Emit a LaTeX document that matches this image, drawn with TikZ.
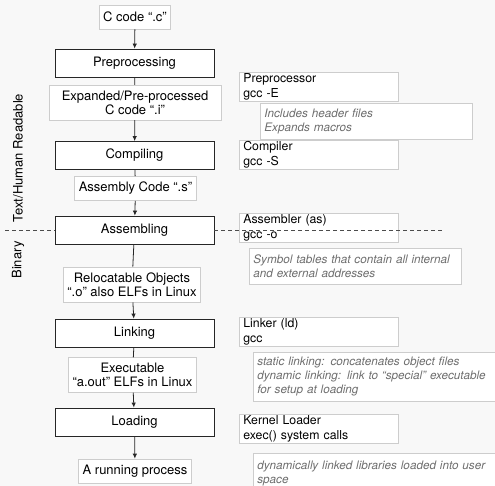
\documentclass[tikz,border=0pt]{standalone}
\usepackage{fontspec}
\setmainfont{TeX Gyre Heros}
\usetikzlibrary{arrows.meta}
\definecolor{bggray}{RGB}{248,248,248}
\definecolor{boxline}{RGB}{205,205,205}
\definecolor{notetext}{RGB}{110,110,110}
\tikzset{
  stage/.style={draw=black!85, line width=0.8pt, fill=white, minimum width=159pt, minimum height=28pt, inner sep=0pt, font=\fontsize{13}{14}\selectfont},
  artifact/.style={draw=boxline, line width=0.7pt, fill=white, align=center, inner xsep=4pt, inner ysep=5.5pt, minimum height=24pt, font=\fontsize{13}{14}\selectfont},
  tool/.style={draw=boxline, line width=0.7pt, fill=white, anchor=west, text width=151pt, align=left, inner xsep=4pt, inner ysep=0pt, minimum height=29pt, font=\fontsize{12.3}{15}\selectfont},
  note/.style={draw=boxline, line width=0.7pt, fill=white, anchor=north west, align=left, inner xsep=4pt, inner ysep=4pt, text=notetext, font=\fontsize{11.7}{14}\selectfont\itshape},
  flow/.style={draw=black!85, line width=0.8pt, -{Latex[length=5pt,width=4.5pt]}},
  link/.style={draw=black!85, line width=0.8pt},
}

\begin{document}
\begin{tikzpicture}[x=1pt,y=-1pt]
                % Define the canvas
                \useasboundingbox (0,0) rectangle (495,486);
                \fill[bggray] (0,0) rectangle (495,486);
                \clip (0,0) rectangle (495,486);

                % Define the build stages and what they produce
                \node[artifact] (src) at (135,17) {C code “.c”};
                \node[stage] (prep) at (134.5,63) {Preprocessing};
                \node[artifact, minimum width=172pt] (expanded) at (135,102.5) {Expanded/Pre-processed\\C code “.i”};
                \node[stage] (compile) at (134.5,155.5) {Compiling};
                \node[artifact] (asmcode) at (135.5,188.5) {Assembly Code “.s”};
                \node[stage] (assemble) at (134.5,230) {Assembling};
                \node[artifact] (reloc) at (132,284.5) {Relocatable Objects\\“.o” also ELFs in Linux};
                \node[stage] (link) at (134.5,333) {Linking};
                \node[artifact] (exe) at (132.5,375) {Executable\\“a.out” ELFs in Linux};
                \node[stage] (load) at (134.5,422) {Loading};
                \node[artifact] (proc) at (135,471) {A running process};

                % Connect them
                \draw[flow] (src) -- (prep);
                \draw[link] (prep) -- (expanded);
                \draw[flow] (expanded) -- (compile);
                \draw[link] (compile) -- (asmcode);
                \draw[flow] (asmcode) -- (assemble);
                \draw[link] (assemble) -- (reloc);
                \draw[flow] (reloc) -- (link);
                \draw[link] (link) -- (exe);
                \draw[flow] (exe) -- (load);
                \draw[flow] (load) -- (proc);

                % Add the tools and notes on the right
                \node[tool] (preptool) at (239,87) {Preprocessor\\gcc -E};
                \node[note, text width=204pt, minimum height=36pt] (prepnote) at (260,103) {Includes header files\\Expands macros};
                \node[tool] (comptool) at (239,155) {Compiler\\gcc -S};
                \node[tool] (asmtool) at (239,227.5) {Assembler (as)\\gcc -o};
                \node[note, text width=204pt, minimum height=36pt] (asmnote) at (249,248) {Symbol tables that contain all internal\\and external addresses};
                \node[tool] (linktool) at (239,332) {Linker (ld)\\gcc};
                \node[note, text width=237pt, minimum height=49pt] (linknote) at (253,352) {static linking: concatenates object files\\dynamic linking: link to “special” executable\\for setup at loading};
                \node[tool] (loadtool) at (239,428.5) {Kernel Loader\\exec() system calls};
                \node[note, text width=237pt, minimum height=40pt] (loadnote) at (253,453) {dynamically linked libraries loaded into user\\space};

                % Add the text/binary border
                \coordinate (dashL) at (5,230);
                \coordinate (dashR) at (444,230);
                \draw[dashed, black!70, line width=0.7pt, dash pattern=on 4pt off 3pt] (dashL) -- (assemble.west);
                \draw[dashed, black!70, line width=0.7pt, dash pattern=on 4pt off 3pt] (assemble.east) -- (dashR);
                \node[rotate=90, font=\fontsize{13}{14}\selectfont] (human) at (18,158) {Text/Human Readable};
                \node[rotate=90, font=\fontsize{13}{14}\selectfont] (binary) at (18,260) {Binary};

            \end{tikzpicture}
\end{document}
